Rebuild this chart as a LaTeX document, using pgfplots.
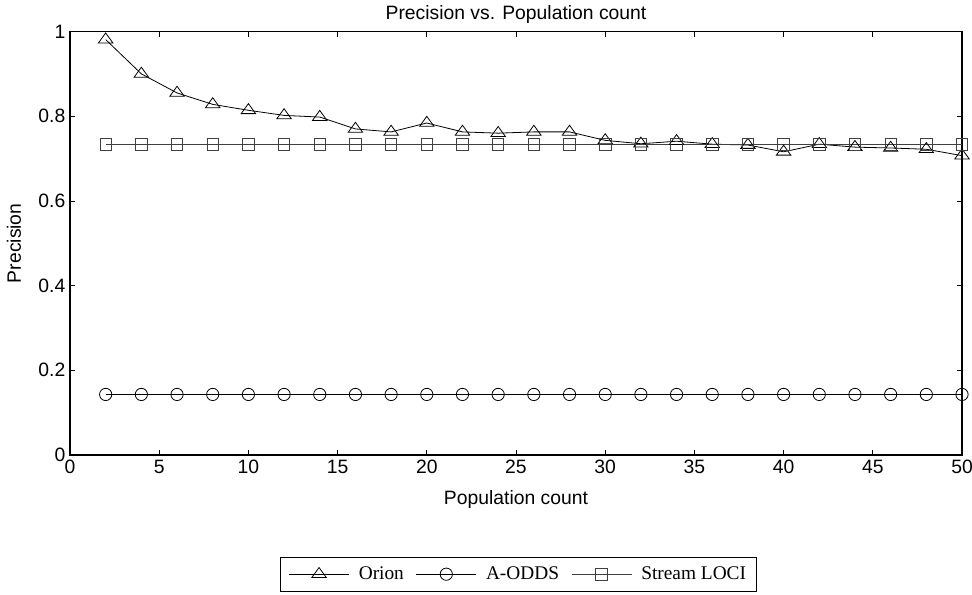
\documentclass[border=0pt]{standalone}
\usepackage{pgfplots}
\pgfplotsset{compat=1.18}
\usepackage{fontspec}
\setmainfont{Liberation Sans}
\newfontfamily\legfont{Liberation Serif}
\begin{document}
\begin{tikzpicture}[x=1pt,y=1pt]
\path[use as bounding box] (0,0) rectangle (729,445.5);
\begin{axis}[
  at={(52.5pt,104.25pt)}, anchor=south west,
  scale only axis, width=669pt, height=317.6pt,
  xmin=0, xmax=50, ymin=0, ymax=1,
  xtick={0,5,...,50}, ytick={0,0.2,0.4,0.6,0.8,1},
  yticklabels={0,0.2,0.4,0.6,0.8,1},
  tick align=inside, major tick length=4pt,
  tick style={black, line width=0.6pt},
  axis line style={line width=0.9pt},
  font=\fontsize{14.5}{17}\selectfont,
  /pgf/number format/assume math mode=true,
  title={Precision vs. Population count},
  title style={at={(axis description cs:0.5,1.0224)}, anchor=center},
  xlabel={Population count},
  xlabel style={at={(axis description cs:0.5,-0.106)}, anchor=center},
  ylabel={Precision},
  ylabel style={at={(axis description cs:-0.0628,0.5)}, anchor=center},
  clip=false,
  legend columns=3,
  legend style={at={(axis description cs:0.503,-0.241)}, anchor=north,
    draw=black, line width=0.6pt, font=\legfont\fontsize{14.5}{17}\selectfont,
    inner xsep=6pt, inner ysep=5pt,
    /tikz/every odd column/.append style={column sep=5pt},
    /tikz/every even column/.append style={column sep=7pt}},
  legend image code/.code={\draw[mark repeat=2,mark phase=2,#1] plot coordinates {(0pt,0pt)(22.5pt,0pt)(45pt,0pt)};},
]
\addplot[black, line width=0.6pt, mark=triangle, mark size=5pt, mark options={solid, line width=0.6pt, xscale=1.25}] coordinates {
(2,0.981)(4,0.900)(6,0.855)(8,0.828)(10,0.814)(12,0.802)(14,0.798)(16,0.770)(18,0.763)(20,0.784)
(22,0.763)(24,0.760)(26,0.763)(28,0.763)(30,0.743)(32,0.735)(34,0.741)(36,0.734)(38,0.732)(40,0.716)
(42,0.734)(44,0.727)(46,0.725)(48,0.722)(50,0.707)};
\addlegendentry{Orion}
\addplot[black, line width=0.6pt, mark=o, mark size=4.6pt, mark options={solid, line width=0.6pt}] coordinates {
(2,0.143)(4,0.143)(6,0.143)(8,0.143)(10,0.143)(12,0.143)(14,0.143)(16,0.143)(18,0.143)(20,0.143)
(22,0.143)(24,0.143)(26,0.143)(28,0.143)(30,0.143)(32,0.143)(34,0.143)(36,0.143)(38,0.143)(40,0.143)
(42,0.143)(44,0.143)(46,0.143)(48,0.143)(50,0.143)};
\addlegendentry{A-ODDS}
\addplot[black!75, line width=0.7pt, mark=square, mark size=4.3pt, mark options={solid, line width=0.6pt}] coordinates {
(2,0.733)(4,0.733)(6,0.733)(8,0.733)(10,0.733)(12,0.733)(14,0.733)(16,0.733)(18,0.733)(20,0.733)
(22,0.733)(24,0.733)(26,0.733)(28,0.733)(30,0.733)(32,0.733)(34,0.733)(36,0.733)(38,0.733)(40,0.733)
(42,0.733)(44,0.733)(46,0.733)(48,0.733)(50,0.733)};
\addlegendentry{Stream LOCI}
\end{axis}
\end{tikzpicture}
\end{document}
